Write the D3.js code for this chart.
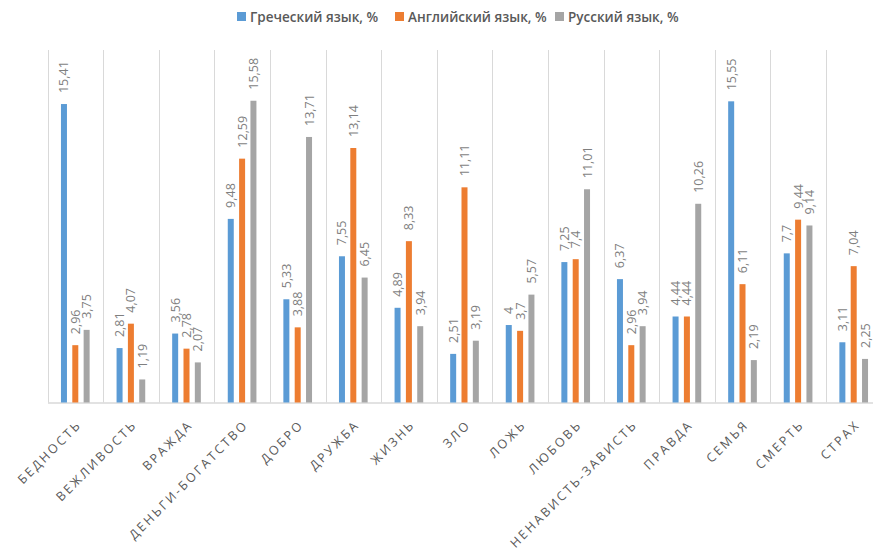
<!DOCTYPE html>
<html><head><meta charset="utf-8">
<script src="https://cdn.jsdelivr.net/npm/d3@7"></script>
<style>
body{margin:0;background:#fff;}
svg{display:block;}
</style></head>
<body>
<script>
const categories = ["БЕДНОСТЬ","ВЕЖЛИВОСТЬ","ВРАЖДА","ДЕНЬГИ-БОГАТСТВО","ДОБРО","ДРУЖБА","ЖИЗНЬ","ЗЛО","ЛОЖЬ","ЛЮБОВЬ","НЕНАВИСТЬ-ЗАВИСТЬ","ПРАВДА","СЕМЬЯ","СМЕРТЬ","СТРАХ"];
const seriesNames = ["Греческий язык, %","Английский язык, %","Русский язык, %"];
const greek   = [15.41, 2.81, 3.56, 9.48, 5.33, 7.55, 4.89, 2.51, 4, 7.25, 6.37, 4.44, 15.55, 7.7, 3.11];
const english = [2.96, 4.07, 2.78, 12.59, 3.88, 13.14, 8.33, 11.11, 3.7, 7.4, 2.96, 4.44, 6.11, 9.44, 7.04];
const russian = [3.75, 1.19, 2.07, 15.58, 13.71, 6.45, 3.94, 3.19, 5.57, 11.01, 3.94, 10.26, 2.19, 9.14, 2.25];
const colors = ["#5b9bd5","#ed7d31","#a5a5a5"];

const W = 873, H = 554;
const svg = d3.select("body").append("svg").attr("width", W).attr("height", H);

const x0 = d3.scaleBand().domain(categories).range([47.5, 881.5]).paddingInner(0).paddingOuter(0);
const x1 = d3.scaleBand().domain([0,1,2]).range([-17, 17]);
const y = d3.scaleLinear().domain([0, 18.2]).range([402.5, 50]);

const series = [greek, english, russian];

// vertical category separators
const seps = categories.map((c,i)=>x0(c)).concat([x0.range()[1]]);
svg.append("g").selectAll("line").data(seps).join("line")
  .attr("x1", d=>Math.round(d)+0.5).attr("x2", d=>Math.round(d)+0.5)
  .attr("y1", 50).attr("y2", y(0))
  .attr("stroke", "#d9d9d9").attr("stroke-width", 1);

// baseline axis
const xAxis = d3.axisBottom(x0).tickSize(0).tickFormat("");
const axG = svg.append("g").attr("transform", `translate(0,${y(0)})`).call(xAxis);
axG.select(".domain").attr("stroke", "#d9d9d9").attr("stroke-width", 1.5);

const fmt = v => String(v).replace(".", ",");

series.forEach((vals, si) => {
  const g = svg.append("g");
  const barW = 6;
  g.selectAll("rect").data(vals).join("rect")
    .attr("x", (d,i) => x0(categories[i]) + x0.bandwidth()/2 + x1(si) + x1.bandwidth()/2 - barW/2)
    .attr("width", barW)
    .attr("y", d => y(d))
    .attr("height", d => y(0) - y(d))
    .attr("fill", colors[si]);
  g.selectAll("text").data(vals).join("text")
    .attr("transform", (d,i) => {
      const cx = x0(categories[i]) + x0.bandwidth()/2 + x1(si) + x1.bandwidth()/2;
      return `translate(${cx + 4.5},${y(d) - 11}) rotate(-90)`;
    })
    .attr("font-family", "'Open Sans', sans-serif")
    .attr("font-size", 12.5)
    .attr("fill", "#7f7f7f")
    .text(d => fmt(d));
});

// category labels rotated
svg.append("g").selectAll("text").data(categories).join("text")
  .attr("transform", d => `translate(${x0(d) + x0.bandwidth()/2 + 7},${y(0) + 23}) rotate(-45)`)
  .attr("text-anchor", "end")
  .attr("font-family", "'Open Sans', sans-serif")
  .attr("font-size", 12.5)
  .attr("letter-spacing", "2.4px")
  .attr("fill", "#595959")
  .text(d => d);

// legend
const legend = svg.append("g").attr("transform", "translate(0,17)");
const legX = [237, 395, 555];
seriesNames.forEach((n, i) => {
  legend.append("rect").attr("x", legX[i]).attr("y", -5).attr("width", 9).attr("height", 9).attr("fill", colors[i]);
  legend.append("text").attr("x", legX[i] + 13).attr("y", 0).attr("dy", "0.35em")
    .attr("font-family", "'Open Sans', sans-serif").attr("font-size", 13.5).attr("font-weight", 600)
    .attr("fill", "#595959").text(n);
});
</script>
</body></html>
